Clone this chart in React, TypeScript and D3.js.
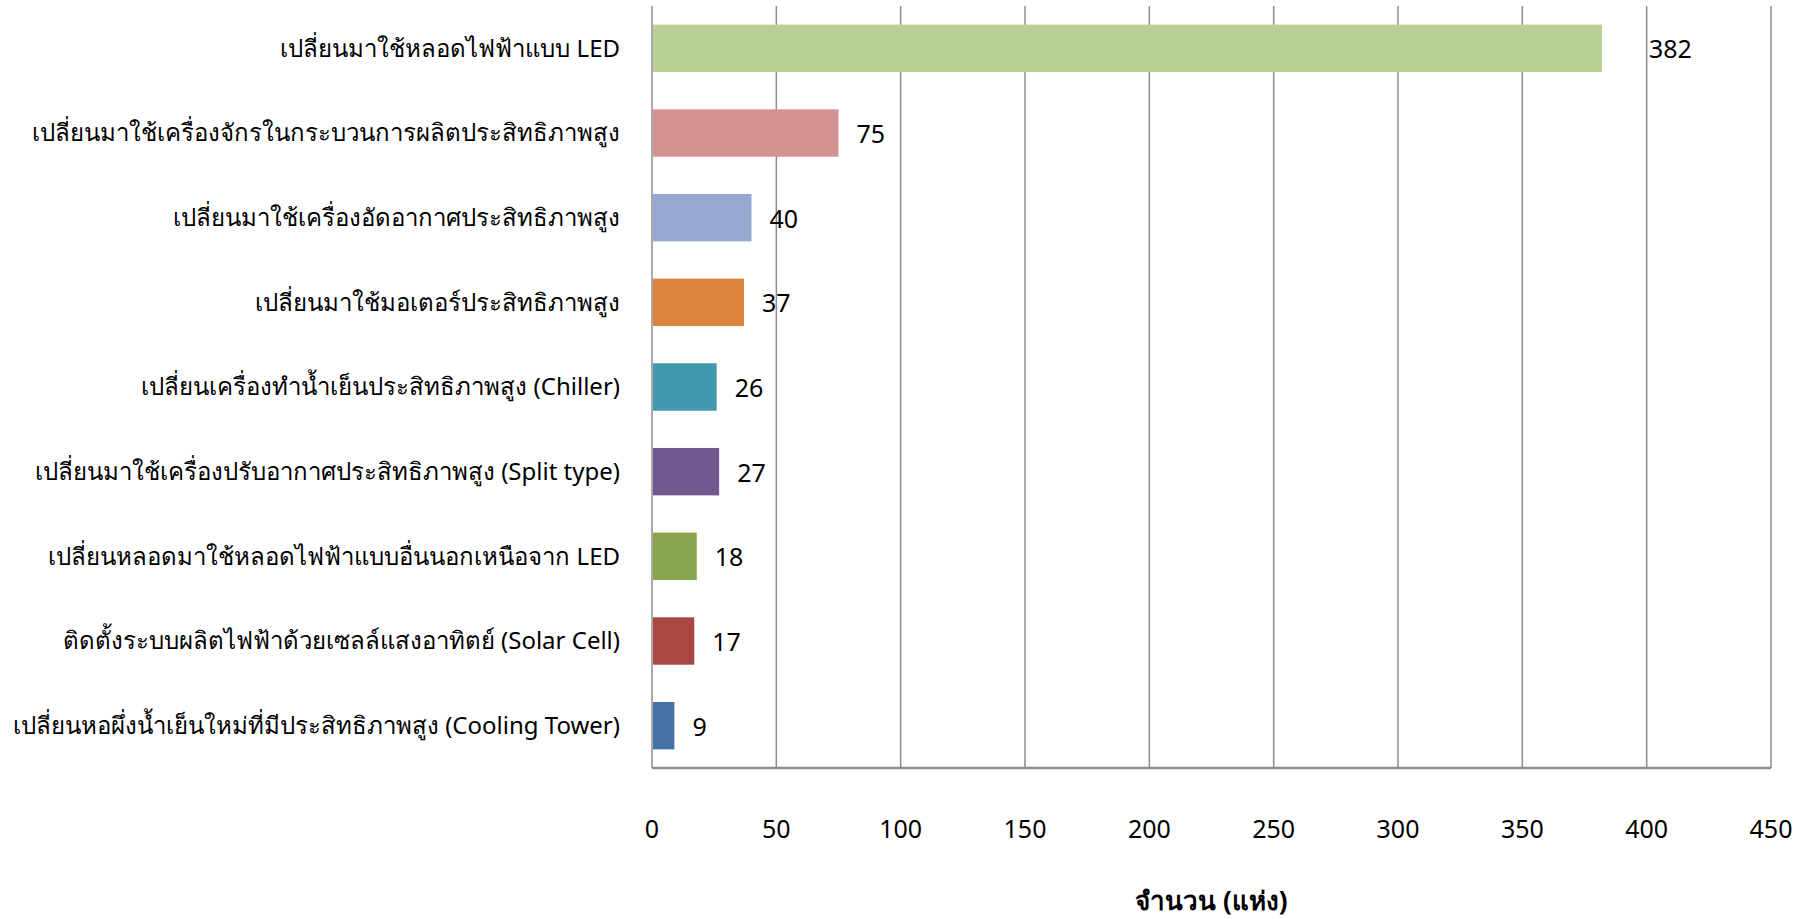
import React, { useEffect, useRef } from "react";
import * as d3 from "d3";

// ข้อมูลจากกราฟ
const CATEGORIES = [
  "เปลี่ยนมาใช้หลอดไฟฟ้าแบบ LED",
  "เปลี่ยนมาใช้เครื่องจักรในกระบวนการผลิตประสิทธิภาพสูง",
  "เปลี่ยนมาใช้เครื่องอัดอากาศประสิทธิภาพสูง",
  "เปลี่ยนมาใช้มอเตอร์ประสิทธิภาพสูง",
  "เปลี่ยนเครื่องทำน้ำเย็นประสิทธิภาพสูง (Chiller)",
  "เปลี่ยนมาใช้เครื่องปรับอากาศประสิทธิภาพสูง (Split type)",
  "เปลี่ยนหลอดมาใช้หลอดไฟฟ้าแบบอื่นนอกเหนือจาก LED",
  "ติดตั้งระบบผลิตไฟฟ้าด้วยเซลล์แสงอาทิตย์ (Solar Cell)",
  "เปลี่ยนหอผึ่งน้ำเย็นใหม่ที่มีประสิทธิภาพสูง (Cooling Tower)",
];
const VALUES = [382, 75, 40, 37, 26, 27, 18, 17, 9];
const COLORS = ["#B9CF96", "#D39392", "#95A9D1", "#DB843D", "#4198AF", "#71588F", "#89A54E", "#AA4643", "#4572A7"];
const X_TICKS = [0, 50, 100, 150, 200, 250, 300, 350, 400, 450];
const X_TITLE = "จำนวน (แห่ง)";

const FONT = "Tahoma, 'Noto Sans', 'DejaVu Sans', sans-serif";

export default function App() {
  const svgRef = useRef<SVGSVGElement>(null);

  useEffect(() => {
    document.body.style.margin = "0";
    if (!svgRef.current) return;
    const W = 1806;
    const H = 919;
    const M = { top: 6, right: 35, bottom: 151, left: 652 };
    const iW = W - M.left - M.right;
    const iH = H - M.top - M.bottom;

    const svg = d3.select(svgRef.current);
    svg.selectAll("*").remove();
    const g = svg.append("g").attr("transform", `translate(${M.left},${M.top})`);

    const x = d3.scaleLinear().domain([0, 450]).range([0, iW]);
    const y = d3.scaleBand().domain(CATEGORIES).range([0, iH]).paddingInner(0.44).paddingOuter(0.22);

    // เส้นกริดแนวตั้ง
    g.append("g")
      .selectAll("line")
      .data(X_TICKS)
      .enter()
      .append("line")
      .attr("x1", (d) => x(d)).attr("x2", (d) => x(d))
      .attr("y1", 0).attr("y2", iH)
      .attr("stroke", "#8c8c8c")
      .attr("stroke-width", 1.5);

    // แกนล่าง
    g.append("line")
      .attr("x1", 0).attr("x2", iW)
      .attr("y1", iH).attr("y2", iH)
      .attr("stroke", "#8c8c8c")
      .attr("stroke-width", 2.5);

    // ป้ายแกน X
    g.append("g")
      .selectAll("text")
      .data(X_TICKS)
      .enter()
      .append("text")
      .attr("x", (d) => x(d))
      .attr("y", iH + 70)
      .attr("text-anchor", "middle")
      .attr("font-family", FONT)
      .attr("font-size", 25)
      .attr("fill", "#000")
      .text((d) => d);

    // ชื่อแกน X
    g.append("text")
      .attr("x", iW / 2)
      .attr("y", iH + 142)
      .attr("text-anchor", "middle")
      .attr("font-family", FONT)
      .attr("font-size", 26)
      .attr("font-weight", "bold")
      .attr("fill", "#000")
      .text(X_TITLE);

    // ป้ายหมวดหมู่
    g.append("g")
      .selectAll("text")
      .data(CATEGORIES)
      .enter()
      .append("text")
      .attr("x", -32)
      .attr("y", (d) => y(d)! + y.bandwidth() / 2)
      .attr("dy", "0.35em")
      .attr("text-anchor", "end")
      .attr("font-family", FONT)
      .attr("font-size", 24)
      .attr("fill", "#000")
      .text((d) => d);

    // แท่ง
    g.append("g")
      .selectAll("rect")
      .data(VALUES)
      .enter()
      .append("rect")
      .attr("x", 1)
      .attr("y", (_d, i) => y(CATEGORIES[i])!)
      .attr("width", (d) => x(d) - 1)
      .attr("height", y.bandwidth())
      .attr("fill", (_d, i) => COLORS[i]);

    // ค่าบนแท่ง (ป้ายแรกถูกเลื่อนออกไปเหมือนต้นฉบับ)
    g.append("g")
      .selectAll("text")
      .data(VALUES)
      .enter()
      .append("text")
      .attr("x", (d, i) => x(d) + (i === 0 ? 47 : 18))
      .attr("y", (_d, i) => y(CATEGORIES[i])! + y.bandwidth() / 2)
      .attr("dy", "0.4em")
      .attr("font-family", FONT)
      .attr("font-size", 25)
      .attr("fill", "#000")
      .text((d) => d);
  }, []);

  return (
    <svg
      ref={svgRef}
      width={1806}
      height={919}
      style={{ display: "block", background: "#fff" }}
    />
  );
}
